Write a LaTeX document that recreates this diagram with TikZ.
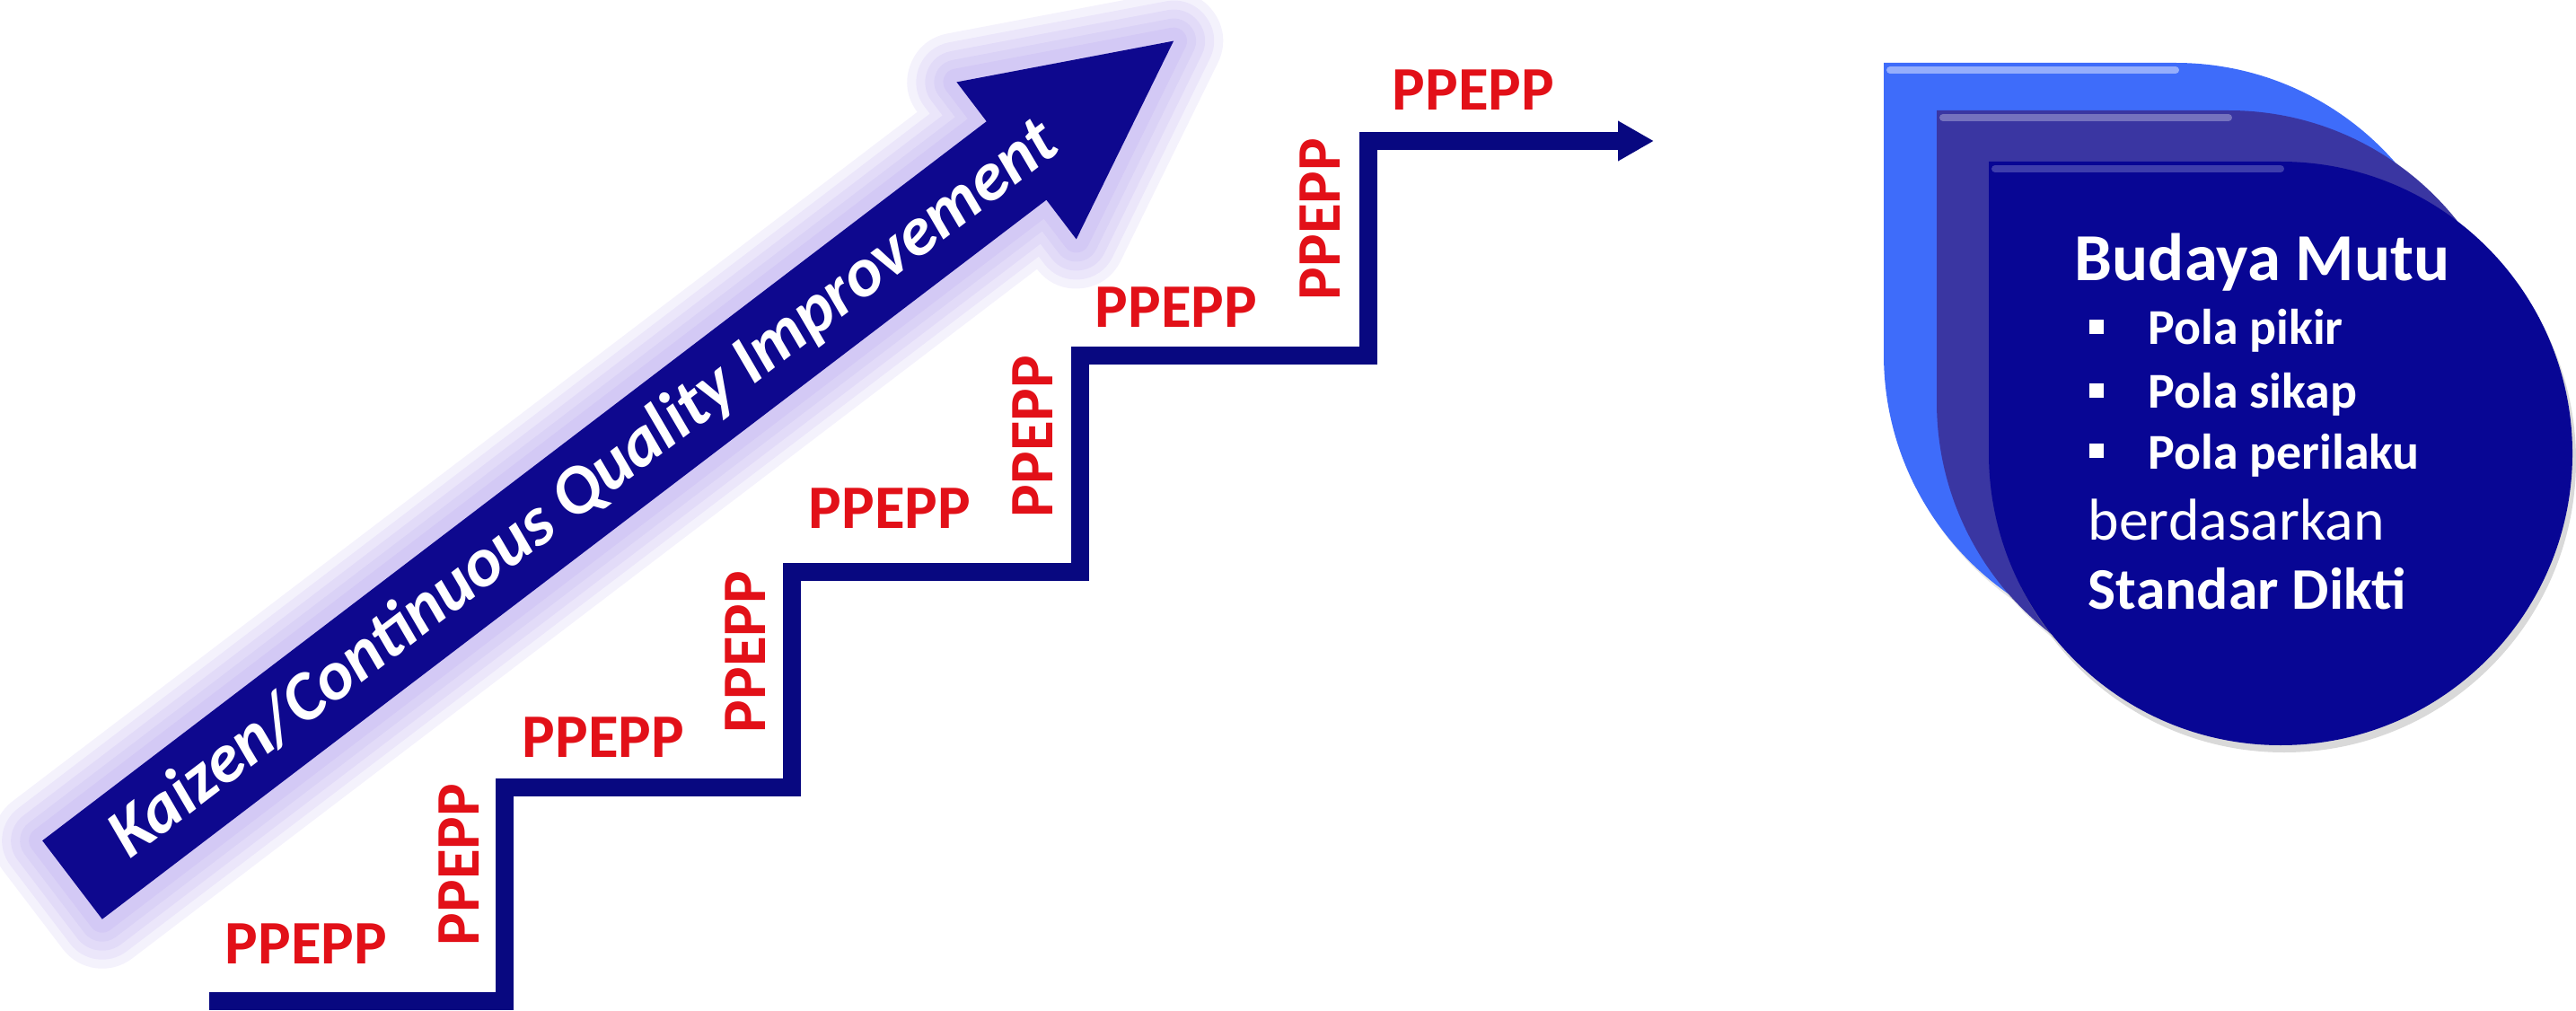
\documentclass[tikz,border=0pt]{standalone}
\usepackage{fontspec}
\setmainfont{Carlito}
\usetikzlibrary{arrows.meta,shadows}

\definecolor{stairblue}{RGB}{8,8,128}
\definecolor{arrowblue}{RGB}{14,8,142}
\definecolor{glowlav}{RGB}{150,125,230}
\definecolor{ppred}{RGB}{226,16,24}
\definecolor{dropone}{RGB}{62,108,250}
\definecolor{droptwo}{RGB}{58,54,162}
\definecolor{dropthree}{RGB}{8,6,148}

\begin{document}
\begin{tikzpicture}[
  ppepp/.style={text=ppred, font=\bfseries\fontsize{19.6}{23}\selectfont, inner sep=0pt},
  glow/.style={draw=glowlav, line join=round, opacity=0.1},
  mututext/.style={text=white, inner sep=0pt, anchor=base west},
  bulletsq/.style={fill=white, inner sep=0pt, minimum size=0.16cm}
]

\useasboundingbox (0,0) rectangle (28.69,11.25);

% big diagonal arrow
\begin{scope}[shift={(0.805,1.45)}, rotate=37.3]
\draw[glow, line width=1.1cm] (0,-0.55)--(13.22,-0.55)--(13.22,-1.10)--(15.42,0)--(13.22,1.10)--(13.22,0.55)--(0,0.55)--cycle;
\draw[glow, line width=0.9cm] (0,-0.55)--(13.22,-0.55)--(13.22,-1.10)--(15.42,0)--(13.22,1.10)--(13.22,0.55)--(0,0.55)--cycle;
\draw[glow, line width=0.7cm] (0,-0.55)--(13.22,-0.55)--(13.22,-1.10)--(15.42,0)--(13.22,1.10)--(13.22,0.55)--(0,0.55)--cycle;
\draw[glow, line width=0.5cm] (0,-0.55)--(13.22,-0.55)--(13.22,-1.10)--(15.42,0)--(13.22,1.10)--(13.22,0.55)--(0,0.55)--cycle;
\draw[glow, line width=0.3cm] (0,-0.55)--(13.22,-0.55)--(13.22,-1.10)--(15.42,0)--(13.22,1.10)--(13.22,0.55)--(0,0.55)--cycle;
\fill[arrowblue] (0,-0.55)--(13.22,-0.55)--(13.22,-1.10)--(15.42,0)--(13.22,1.10)--(13.22,0.55)--(0,0.55)--cycle;
\node[text=white, rotate=37.3, inner sep=0pt, font=\bfseries\itshape\fontsize{22}{26}\selectfont] (kaizen) at (7.17,0) {Kaizen/Continuous Quality Improvement};
\end{scope}

% stairs
\draw[stairblue, line width=0.2cm, -{Triangle[length=0.4cm,width=0.42cm]}] (2.33,0.10) -- (5.62,0.10) -- (5.62,2.48) -- (8.82,2.48) -- (8.82,4.88) -- (12.03,4.88) -- (12.03,7.29) -- (15.24,7.29) -- (15.24,9.68) -- (18.42,9.68);

\node[ppepp] (tread1) at (3.41,0.74) {PPEPP};
\node[ppepp] (tread2) at (6.72,3.04) {PPEPP};
\node[ppepp] (tread3) at (9.91,5.59) {PPEPP};
\node[ppepp] (tread4) at (13.10,7.83) {PPEPP};
\node[ppepp] (tread5) at (16.41,10.25) {PPEPP};

\node[ppepp, rotate=90] (riser1) at (5.11,1.62) {PPEPP};
\node[ppepp, rotate=90] (riser2) at (8.30,3.99) {PPEPP};
\node[ppepp, rotate=90] (riser3) at (11.50,6.39) {PPEPP};
\node[ppepp, rotate=90] (riser4) at (14.70,8.81) {PPEPP};

% stacked drops
\fill[dropone, drop shadow={shadow xshift=0.04cm, shadow yshift=-0.06cm, opacity=0.2}] (20.98,10.55) -- (24.23,10.55) arc[start angle=90, end angle=-180, radius=3.25] -- cycle;
\draw[white!45!dropone, line width=0.08cm, line cap=round] (21.05,10.47) -- (24.23,10.47);
\fill[droptwo, drop shadow={shadow xshift=0.04cm, shadow yshift=-0.06cm, opacity=0.2}] (21.57,10.02) -- (24.82,10.02) arc[start angle=90, end angle=-180, radius=3.25] -- cycle;
\draw[white!30!droptwo, line width=0.08cm, line cap=round] (21.64,9.94) -- (24.82,9.94);
\fill[dropthree, drop shadow={shadow xshift=0.04cm, shadow yshift=-0.08cm, opacity=0.3}] (22.15,9.45) -- (25.40,9.45) arc[start angle=90, end angle=-180, radius=3.25] -- cycle;
\draw[white!22!dropthree, line width=0.08cm, line cap=round] (22.22,9.37) -- (25.40,9.37);

\node[mututext, font=\bfseries\fontsize{21.3}{25}\selectfont] (budaya) at (23.10,8.12) {Budaya Mutu};
\node[bulletsq] (sq1) at (23.35,7.61) {};
\node[mututext, font=\bfseries\fontsize{15.9}{19}\selectfont] (pikir) at (23.92,7.41) {Pola pikir};
\node[bulletsq] (sq2) at (23.35,6.90) {};
\node[mututext, font=\bfseries\fontsize{15.9}{19}\selectfont] (sikap) at (23.92,6.70) {Pola sikap};
\node[bulletsq] (sq3) at (23.35,6.23) {};
\node[mututext, font=\bfseries\fontsize{15.9}{19}\selectfont] (perilaku) at (23.92,6.03) {Pola perilaku};
\node[mututext, font=\fontsize{18.7}{22}\selectfont] (dasar) at (23.25,5.24) {berdasarkan};
\node[mututext, font=\bfseries\fontsize{18.7}{22}\selectfont] (standar) at (23.25,4.47) {Standar Dikti};

\end{tikzpicture}
\end{document}
